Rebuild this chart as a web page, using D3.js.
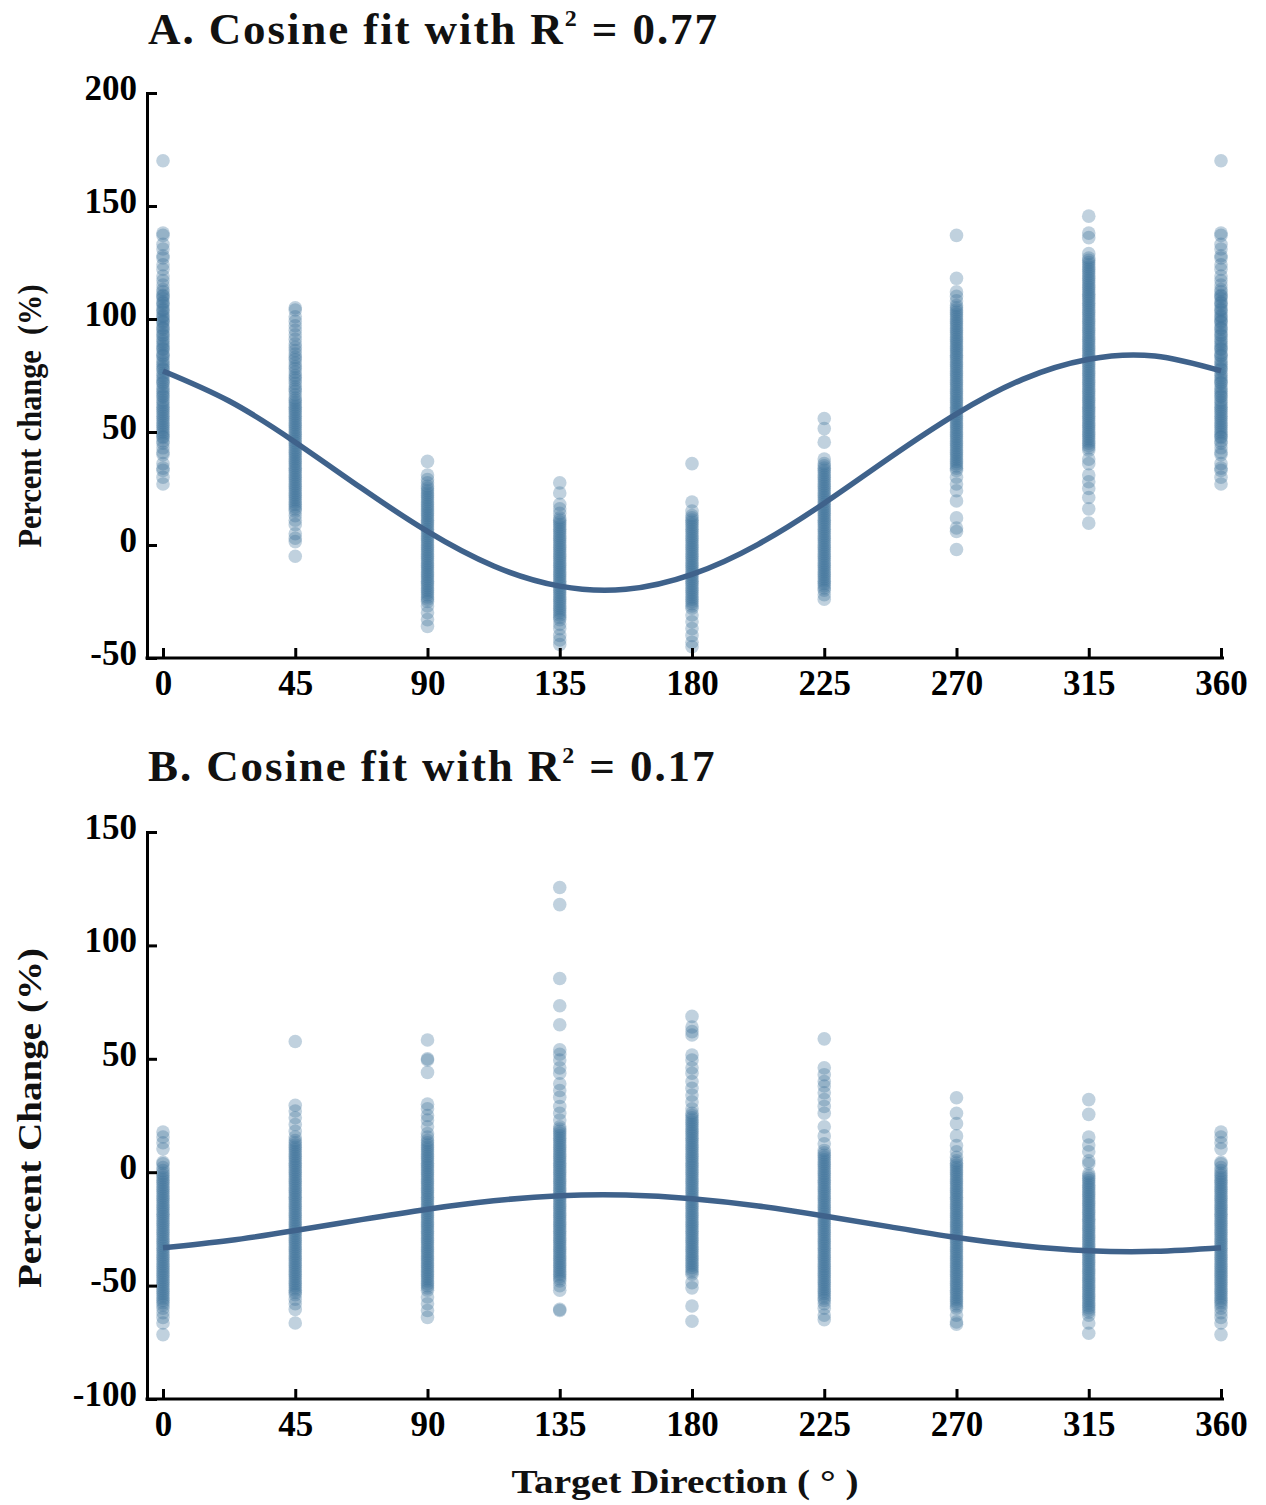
<!DOCTYPE html>
<html>
<head>
<meta charset="utf-8">
<script src="https://cdn.jsdelivr.net/npm/d3@7"></script>
<style>
body { margin: 0; background: #fff; }
svg { display: block; font-family: "Liberation Serif", "Times New Roman", serif; }
</style>
</head>
<body>
<svg id="chart" width="1266" height="1505"></svg>
<script>
// target directions and tick labels
var directions = [0, 45, 90, 135, 180, 225, 270, 315, 360];
var xTicks = [0, 45, 90, 135, 180, 225, 270, 315, 360];
var yTicksA = [-50, 0, 50, 100, 150, 200];
var yTicksB = [-100, -50, 0, 50, 100, 150];

// fitted cosine curves
var fitAngles = [0, 22.5, 45, 67.5, 90, 112.5, 135, 157.5, 180, 202.5, 225, 247.5, 270, 292.5, 315, 337.5, 360];
var fitA = [77, 63.7, 45.5, 25.2, 6, -9.3, -18.2, -19.6, -13, 0.3, 18.5, 38.8, 58, 73.3, 82.2, 83.6, 77];
var fitB = [-33.3, -30.1, -25.7, -20.9, -16.3, -12.6, -10.4, -10.1, -11.7, -14.9, -19.3, -24.1, -28.8, -32.4, -34.6, -34.9, -33.3];

// panel A: percent change per direction (360 repeats 0)
var a0 = [170,138,137,133,131,128,127,124,122,119,117,115,
  113,112,110.5,110,109,107.5,107,106,104.5,104,103,101.5,101,100,99,98.5,97,96,95.5,94,93,92.5,91,90,89,88,87,86.5,85,84,83.5,82,81,80,79,78,77.5,76,75,74,73,72,71.5,70,69,68,67,66,65.5,64,63,62,61,60,59,58,57,56,55,54,53,52,51,50,49,48,47.5,46,45,
  43,41,40,36,34,33,30,27];
var a45 = [105,104,101,99,97,95,93,91,89,87.5,
  86,84.5,83,82,80.5,79,78,76.5,75,74,73,71.5,70,69,68,66.5,65,64,63,62,61,60,59,58,57,56,55,54,53,52,51,50,49,48,47,46,45,44,43,42,41,40,39,38,37,36,35,34,33,32,31,30,29,28,27,26,25,24,23,22,21,20,19,18,17,16,15,
  13,11,9,5,3,1.5,-5];
var a90 = [37,31,29,27.5,26,25,24,23,22,21,20,19,18,17,16,15,14,13,12,11,10,9,8,7,6,5,4,3,2,1,0,-1,-2,-3,-4,-5,-6,-7,-8,-9,-10,-11,-12,-13,-14,-15,-16,-17,-18,-19,-20,-21,-22,-23,-24,-25,-27,-30,-33,-36];
var a135 = [27.5,23,18,16,14,12,11,10,9,8,7,6,5,4,3,2,1,0,-1,-2,-3,-4,-5,-6,-7,-8,-9,-10,-11,-12,-13,-14,-15,-16,-17,-18,-19,-20,-21,-22,-23,-24,-25,-26,-27,-28,-29,-30,-31,-32,-33,-35,-37,-40,-42,-44];
var a180 = [36,19,15,13,12,11,10,9,8,7,6,5,4,3,2,1,0,-1,-2,-3,-4,-5,-6,-7,-8,-9,-10,-11,-12,-13,-14,-15,-16,-17,-18,-19,-20,-21,-22,-23,-24,-25,-26,-27,-28,-31,-34,-37,-40,-43,-45];
var a225 = [56,51.5,45.5,38,36,35,34,33,32,31,30,29,28,27,26,25,24,23,22,21,20,19,18,17,16,15,14,13,12,11,10,9,8,7,6,5,4,3,2,1,0,-1,-2,-3,-4,-5,-6,-7,-8,-9,-10,-11,-12,-13,-14,-15,-16,-17,-18,-19,-20,-22,-24];
var a270 = [137,118,112,110,108,106,105,104,103,102,101,100,99,98,97,96,95,94,93,92,91,90,89,88,87,86,85,84,83,82,81,80,79,78,77,76,75,74,73,72,71,70,69,68,67,66,65,64,63,62,61,60,59,58,57,56,55,54,53,52,51,50,49,48,47,46,45,44,43,42,41,40,39,38,37,36,35,34,33,30,27,24,19.5,12,7.5,6,-2];
var a315 = [145.5,138,136,129,127,126,125,124,123,122,121,120,119,118,117,116,115,114,113,112,111,110,109,108,107,106,105,104,103,102,101,100,99,98,97,96,95,94,93,92,91,90,89,88,87,86,85,84,83,82,81,80,79,78,77,76,75,74,73,72,71,70,69,68,67,66,65,64,63,62,61,60,59,58,57,56,55,54,53,52,51,50,49,48,47,46,45,44,43,42,38,36,31,28,25,21,16,9.7];

// panel B
var b0 = [17.7,15.5,13,10.3,4.4,3.7,2,0.7,-0.5,-1.5,-2.5,-3.5,-4.5,-5.5,-6.5,-7.5,-8.5,-9.5,-10.5,-11.5,-12.5,-13.5,-14.5,-15.5,-16.5,-17.5,-18.5,-19.5,-20.5,-21.5,-22.5,-23.5,-24.5,-25.5,-26.5,-27.5,-28.5,-29.5,-30.5,-31.5,-32.5,-33.5,-34.5,-35.5,-36.5,-37.5,-38.5,-39.5,-40.5,-41.5,-42.5,-43.5,-44.5,-45.5,-46.5,-47.5,-48.5,-49.5,-50.5,-51.5,-52.5,-53.5,-54.5,-55.5,-56.5,-57.5,-58.5,-60,-62,-64,-66.5,-71.6];
var b45 = [57.6,29.5,27,24,21,18,15.5,14,13,12,11,10,9,8,7,6,5,4,3,2,1,0,-1,-2,-3,-4,-5,-6,-7,-8,-9,-10,-11,-12,-13,-14,-15,-16,-17,-18,-19,-20,-21,-22,-23,-24,-25,-26,-27,-28,-29,-30,-31,-32,-33,-34,-35,-36,-37,-38,-39,-40,-41,-42,-43,-44,-45,-46,-47,-48,-49,-50,-51,-52,-53,-54,-56,-58,-60.5,-66.5];
var b90 = [58.3,50,49.5,44,30,28,25,23,20,17,15.5,14,13,12,11,10,9,8,7,6,5,4,3,2,1,0,-1,-2,-3,-4,-5,-6,-7,-8,-9,-10,-11,-12,-13,-14,-15,-16,-17,-18,-19,-20,-21,-22,-23,-24,-25,-26,-27,-28,-29,-30,-31,-32,-33,-34,-35,-36,-37,-38,-39,-40,-41,-42,-43,-44,-45,-46,-47,-48,-49,-50,-51,-52,-55,-58,-61,-64];
var b135 = [125.5,118,85.4,73.4,65,54,52,49.5,46,43.6,39,36,33,29,26,23,20,19,18,17,16,15,14,13,12,11,10,9,8,7,6,5,4,3,2,1,0,-1,-2,-3,-4,-5,-6,-7,-8,-9,-10,-11,-12,-13,-14,-15,-16,-17,-18,-19,-20,-21,-22,-23,-24,-25,-26,-27,-28,-29,-30,-31,-32,-33,-34,-35,-36,-37,-38,-39,-40,-41,-42,-43,-44,-45,-46,-47,-48,-50,-52,-60.5,-61];
var b180 = [68.7,64,62,60.5,51.7,49.5,46,43.6,40,37,34,31,28,26,25,24,23,22,21,20,19,18,17,16,15,14,13,12,11,10,9,8,7,6,5,4,3,2,1,0,-1,-2,-3,-4,-5,-6,-7,-8,-9,-10,-11,-12,-13,-14,-15,-16,-17,-18,-19,-20,-21,-22,-23,-24,-25,-26,-27,-28,-29,-30,-31,-32,-33,-34,-35,-36,-37,-38,-39,-40,-41,-42,-43,-44,-45,-48.7,-51,-59,-65.7];
var b225 = [58.8,46,43,40,38,35,32,29,26,20,16,12.5,9.6,8.5,7.5,6.5,5.5,4.5,3.5,2.5,1.5,0.5,-0.5,-1.5,-2.5,-3.5,-4.5,-5.5,-6.5,-7.5,-8.5,-9.5,-10.5,-11.5,-12.5,-13.5,-14.5,-15.5,-16.5,-17.5,-18.5,-19.5,-20.5,-21.5,-22.5,-23.5,-24.5,-25.5,-26.5,-27.5,-28.5,-29.5,-30.5,-31.5,-32.5,-33.5,-34.5,-35.5,-36.5,-37.5,-38.5,-39.5,-40.5,-41.5,-42.5,-43.5,-44.5,-45.5,-46.5,-47.5,-48.5,-49.5,-50.5,-51.5,-52.5,-53.5,-54.5,-55.5,-56.5,-58,-60,-63,-65];
var b270 = [32.8,26,21.4,16,11.8,9,6.6,5,4,3,2,1,0,-1,-2,-3,-4,-5,-6,-7,-8,-9,-10,-11,-12,-13,-14,-15,-16,-17,-18,-19,-20,-21,-22,-23,-24,-25,-26,-27,-28,-29,-30,-31,-32,-33,-34,-35,-36,-37,-38,-39,-40,-41,-42,-43,-44,-45,-46,-47,-48,-49,-50,-51,-52,-53,-54,-55,-56,-57,-58,-59,-60,-63,-66,-67];
var b315 = [32,25.5,15.5,12,9,5,3.7,-0.7,-1.7,-2.7,-3.7,-4.7,-5.7,-6.7,-7.7,-8.7,-9.7,-10.7,-11.7,-12.7,-13.7,-14.7,-15.7,-16.7,-17.7,-18.7,-19.7,-20.7,-21.7,-22.7,-23.7,-24.7,-25.7,-26.7,-27.7,-28.7,-29.7,-30.7,-31.7,-32.7,-33.7,-34.7,-35.7,-36.7,-37.7,-38.7,-39.7,-40.7,-41.7,-42.7,-43.7,-44.7,-45.7,-46.7,-47.7,-48.7,-49.7,-50.7,-51.7,-52.7,-53.7,-54.7,-55.7,-56.7,-57.7,-58.7,-59.7,-60.7,-61.7,-63,-66.5,-71];

var columnsA = [a0, a45, a90, a135, a180, a225, a270, a315, a0];
var columnsB = [b0, b45, b90, b135, b180, b225, b270, b315, b0];

var pointColor = "#3a6f98";
var lineColor = "#3f628b";
var axisLeftX = 147;

var svg = d3.select("#chart");

var x = d3.scaleLinear().domain([0, 360]).range([163, 1221]);

// plain hyphen for negatives, like the original
function plainNum(d) { return String(d); }

function drawPanel(p) {
	var g = svg.append("g").attr("class", "panel");
	var y = d3.scaleLinear().domain(p.yDomain).range(p.yRange);

	// points
	var pts = [];
	directions.forEach(function(d, i) {
		p.columns[i].forEach(function(v) { pts.push({dir: d, v: v}); });
	});
	g.append("g")
	.selectAll("circle")
	.data(pts)
	.enter()
	.append("circle")
	.attr("cx", function(d) { return x(d.dir); })
	.attr("cy", function(d) { return y(d.v); })
	.attr("r", 6.8)
	.style("fill", pointColor)
	.style("fill-opacity", 0.32);

	// fit curve
	var line = d3.line()
	.x(function(d, i) { return x(fitAngles[i]); })
	.y(function(d) { return y(d); })
	.curve(d3.curveNatural);
	g.append("path")
	.attr("d", line(p.fit))
	.style("fill", "none")
	.style("stroke", lineColor)
	.style("stroke-width", 5.5);

	// y axis
	var yAxis = d3.axisLeft(y).tickValues(p.yTicks).tickFormat(plainNum).tickSize(-10).tickSizeOuter(0).tickPadding(10);
	var ya = g.append("g")
	.attr("transform", "translate(" + axisLeftX + ",0)")
	.call(yAxis);
	ya.select(".domain").style("stroke-width", 3).style("stroke-linecap", "square");
	ya.selectAll(".tick line").style("stroke-width", 3);
	ya.selectAll(".tick text")
	.attr("dy", "0.18em")
	.attr("font-family", "Liberation Serif, serif")
	.attr("font-size", 35)
	.attr("font-weight", "bold")
	.style("fill", "#000");

	// x axis
	var xAxis = d3.axisBottom(x).tickValues(xTicks).tickFormat(plainNum).tickSize(-10).tickSizeOuter(0).tickPadding(12);
	var xa = g.append("g")
	.attr("transform", "translate(0," + y(p.yDomain[0]) + ")")
	.call(xAxis);
	xa.select(".domain").remove();
	xa.selectAll(".tick line").style("stroke-width", 3);
	xa.selectAll(".tick text")
	.attr("font-family", "Liberation Serif, serif")
	.attr("font-size", 35)
	.attr("font-weight", "bold")
	.style("fill", "#000");
	g.append("line")
	.attr("x1", axisLeftX)
	.attr("x2", x(360) + 1.5)
	.attr("y1", y(p.yDomain[0]))
	.attr("y2", y(p.yDomain[0]))
	.style("stroke", "#000")
	.style("stroke-width", 3)
	.style("stroke-linecap", "square");

	// title
	var t = g.append("text")
	.attr("x", 148)
	.attr("y", p.titleY)
	.attr("font-size", 45)
	.attr("font-weight", "bold")
	.style("letter-spacing", "1.9px")
	.style("fill", "#111");
	t.append("tspan").text(p.title);
	t.append("tspan").attr("font-size", 24).attr("dy", -18).text("2");
	t.append("tspan").attr("dy", 18).text(" = " + p.r2);

	// y label
	g.append("text")
	.attr("transform", "translate(41," + p.yLabelY + ") rotate(-90)")
	.attr("text-anchor", "middle")
	.attr("font-size", p.yLabelSize)
	.attr("font-weight", "bold")
	.attr("textLength", p.yLabelLength)
	.attr("lengthAdjust", "spacingAndGlyphs")
	.style("white-space", "pre")
	.style("fill", "#111")
	.text(p.yLabel);
}

drawPanel({
	columns: columnsA,
	fit: fitA,
	yDomain: [-50, 200],
	yRange: [658, 93],
	yTicks: yTicksA,
	title: "A. Cosine fit with R",
	r2: "0.77",
	titleY: 44,
	yLabel: "Percent change  (%)",
	yLabelY: 416,
	yLabelSize: 34,
	yLabelLength: 263
});

drawPanel({
	columns: columnsB,
	fit: fitB,
	yDomain: [-100, 150],
	yRange: [1399, 832],
	yTicks: yTicksB,
	title: "B. Cosine fit with R",
	r2: "0.17",
	titleY: 781,
	yLabel: "Percent Change (%)",
	yLabelY: 1118,
	yLabelSize: 34,
	yLabelLength: 340
});

// x axis title
svg.append("text")
.attr("x", 685)
.attr("y", 1493)
.attr("text-anchor", "middle")
.attr("font-size", 34)
.attr("font-weight", "bold")
.attr("textLength", 347)
.attr("lengthAdjust", "spacingAndGlyphs")
.style("fill", "#111")
.text("Target Direction ( \u00b0 )");
</script>
</body>
</html>
